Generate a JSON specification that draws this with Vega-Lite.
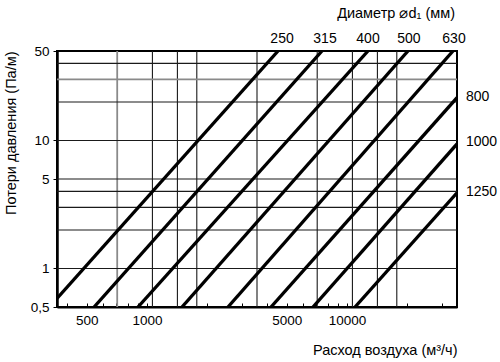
{
  "$schema": "https://vega.github.io/schema/vega-lite/v6.json",
  "width": 400,
  "height": 256,
  "autosize": {"type": "none"},
  "padding": {"left": 57, "top": 51, "right": 43, "bottom": 55},
  "config": {
    "font": "Liberation Sans",
    "view": {"stroke": "black", "strokeWidth": 2},
    "axis": {"labelFont": "Liberation Sans", "titleFont": "Liberation Sans", "labelColor": "black", "titleColor": "black"}
  },
  "datasets": {
    "lines": [
      {"q": 355, "p": 0.583, "d": "250"},
      {"q": 4523, "p": 50, "d": "250"},
      {"q": 544, "p": 0.5, "d": "315"},
      {"q": 7502, "p": 50, "d": "315"},
      {"q": 902, "p": 0.5, "d": "400"},
      {"q": 12740, "p": 50, "d": "400"},
      {"q": 1497, "p": 0.5, "d": "500"},
      {"q": 20195, "p": 50, "d": "500"},
      {"q": 2542, "p": 0.5, "d": "630"},
      {"q": 33900, "p": 50, "d": "630"},
      {"q": 4171, "p": 0.5, "d": "800"},
      {"q": 35500, "p": 21.6, "d": "800"},
      {"q": 6764, "p": 0.5, "d": "1000"},
      {"q": 35500, "p": 9.4, "d": "1000"},
      {"q": 10971, "p": 0.5, "d": "1250"},
      {"q": 35500, "p": 3.9, "d": "1250"}
    ],
    "vgrid": [
      {"q": 710, "kind": "grey"},
      {"q": 1065, "kind": "black"},
      {"q": 1420, "kind": "black"},
      {"q": 1775, "kind": "black"},
      {"q": 3550, "kind": "black"},
      {"q": 7100, "kind": "black"},
      {"q": 10650, "kind": "black"},
      {"q": 14200, "kind": "black"},
      {"q": 17750, "kind": "black"}
    ],
    "hgrid": [
      {"p": 40, "kind": "black"},
      {"p": 30, "kind": "grey"},
      {"p": 20, "kind": "black"},
      {"p": 10, "kind": "black"},
      {"p": 5, "kind": "black"},
      {"p": 4, "kind": "black"},
      {"p": 3, "kind": "black"},
      {"p": 2, "kind": "black"},
      {"p": 1, "kind": "black"}
    ],
    "toplabels": [
      {"q": 4736, "p": 50, "d": "250"},
      {"q": 7767, "p": 50, "d": "315"},
      {"q": 12740, "p": 50, "d": "400"},
      {"q": 20410, "p": 50, "d": "500"},
      {"q": 34290, "p": 50, "d": "630"}
    ],
    "rightlabels": [
      {"q": 35500, "p": 21.8, "d": "800"},
      {"q": 35500, "p": 9.7, "d": "1000"},
      {"q": 35500, "p": 3.94, "d": "1250"}
    ],
    "heading": [
      {"q": 35500, "p": 50, "t": "Диаметр ⌀d₁ (мм)"}
    ]
  },
  "layer": [
    {
      "data": {"name": "vgrid"},
      "mark": {"type": "rule"},
      "encoding": {
        "x": {
          "field": "q", "type": "quantitative",
          "scale": {"type": "log", "domain": [355, 35500], "nice": false},
          "axis": {
            "orient": "bottom",
            "values": [400, 500, 600, 700, 800, 900, 1000, 2000, 3000, 4000, 5000, 6000, 7000, 8000, 9000, 10000, 20000, 30000],
            "labelExpr": "indexof([500, 1000, 5000, 10000], datum.value) >= 0 ? format(datum.value, 'd') : ''",
            "grid": false,
            "tickSize": -4,
            "tickColor": "black",
            "tickWidth": 1,
            "labelPadding": 10,
            "labelFontSize": 13.5,
            "labelOverlap": false,
            "domainColor": "black",
            "domainWidth": 2,
            "title": "Расход воздуха (м³/ч)",
            "titleAnchor": "end",
            "titleFontSize": 14.5,
            "titleFontWeight": "normal",
            "titlePadding": 17
          }
        },
        "color": {"field": "kind", "type": "nominal", "scale": {"domain": ["black", "grey"], "range": ["#1a1a1a", "#8a8a8a"]}, "legend": null},
        "strokeWidth": {"field": "kind", "type": "nominal", "scale": {"domain": ["black", "grey"], "range": [1.1, 1.8]}, "legend": null}
      }
    },
    {
      "data": {"name": "hgrid"},
      "mark": {"type": "rule"},
      "encoding": {
        "y": {
          "field": "p", "type": "quantitative",
          "scale": {"type": "log", "domain": [0.5, 50], "nice": false},
          "axis": {
            "values": [0.5, 1, 5, 10, 50],
            "labelExpr": "replace(format(datum.value, '~g'), '.', ',')",
            "grid": false,
            "tickSize": 4,
            "tickColor": "black",
            "labelPadding": 4,
            "labelFontSize": 13.5,
            "domainColor": "black",
            "domainWidth": 2.5,
            "title": "Потери давления (Па/м)",
            "titleAnchor": "end",
            "titleFontSize": 14.5,
            "titleFontWeight": "normal",
            "titlePadding": 12
          }
        },
        "color": {"field": "kind", "type": "nominal", "scale": {"domain": ["black", "grey"], "range": ["#1a1a1a", "#8a8a8a"]}, "legend": null},
        "strokeWidth": {"field": "kind", "type": "nominal", "scale": {"domain": ["black", "grey"], "range": [1.1, 1.8]}, "legend": null}
      }
    },
    {
      "data": {"name": "lines"},
      "mark": {"type": "line", "color": "black", "strokeWidth": 3.3, "clip": true, "strokeCap": "butt"},
      "encoding": {
        "x": {"field": "q", "type": "quantitative"},
        "y": {"field": "p", "type": "quantitative"},
        "detail": {"field": "d", "type": "nominal"}
      }
    },
    {
      "data": {"name": "toplabels"},
      "mark": {"type": "text", "fontSize": 14, "color": "black", "dy": -12, "baseline": "middle", "align": "center"},
      "encoding": {
        "x": {"field": "q", "type": "quantitative"},
        "y": {"field": "p", "type": "quantitative"},
        "text": {"field": "d", "type": "nominal"}
      }
    },
    {
      "data": {"name": "rightlabels"},
      "mark": {"type": "text", "fontSize": 14, "color": "black", "dx": 9, "baseline": "middle", "align": "left"},
      "encoding": {
        "x": {"field": "q", "type": "quantitative"},
        "y": {"field": "p", "type": "quantitative"},
        "text": {"field": "d", "type": "nominal"}
      }
    },
    {
      "data": {"name": "heading"},
      "mark": {"type": "text", "fontSize": 14.5, "color": "black", "dx": -2, "dy": -37, "baseline": "middle", "align": "right"},
      "encoding": {
        "x": {"field": "q", "type": "quantitative"},
        "y": {"field": "p", "type": "quantitative"},
        "text": {"field": "t", "type": "nominal"}
      }
    }
  ],
  "resolve": {"scale": {"color": "shared", "strokeWidth": "shared"}}
}
